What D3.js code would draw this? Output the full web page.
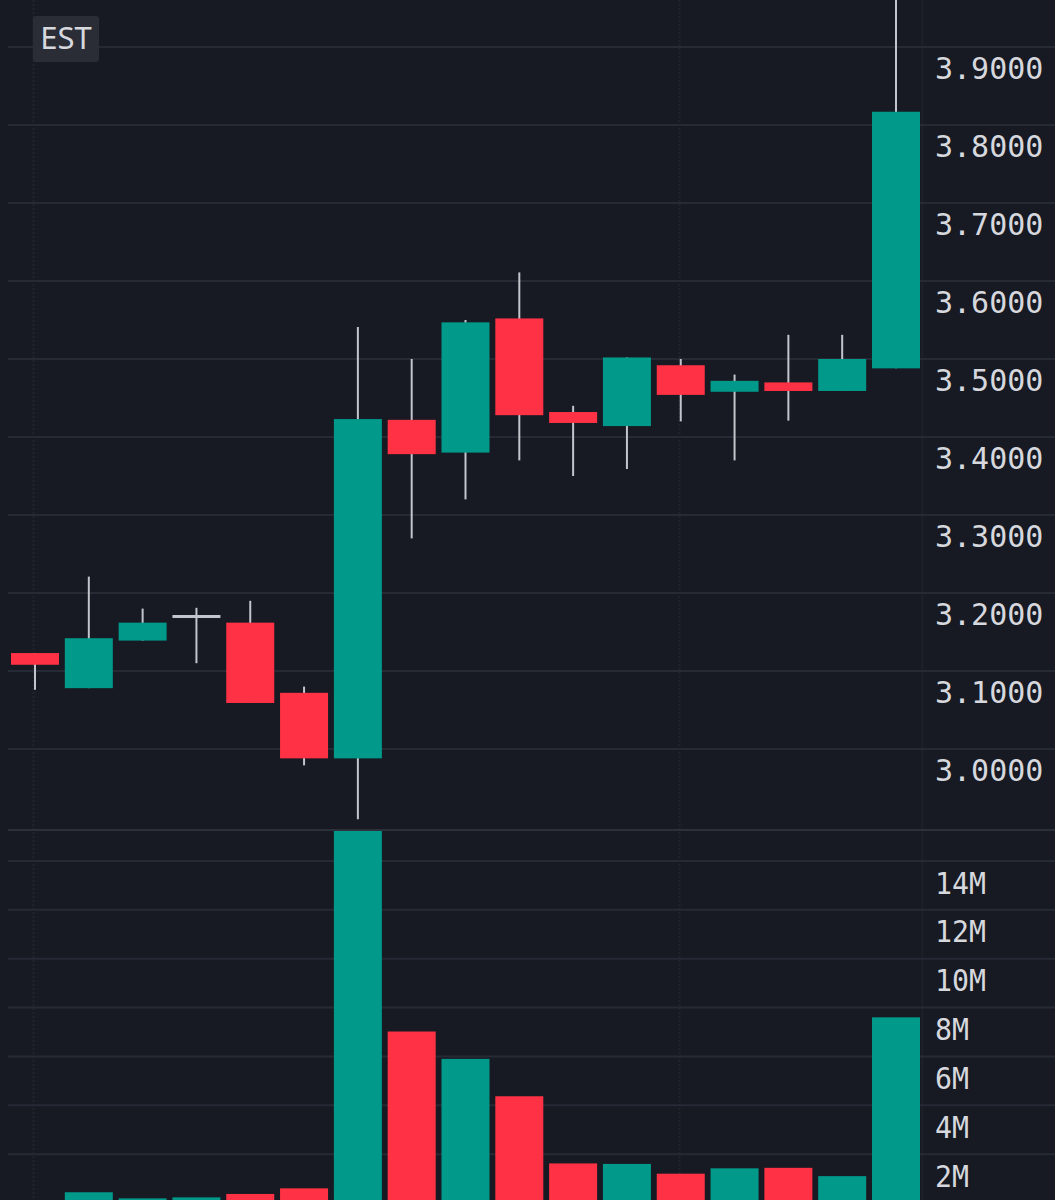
<!DOCTYPE html>
<html>
<head>
<meta charset="utf-8">
<script src="https://cdn.jsdelivr.net/npm/d3@7"></script>
<style>
  html, body { margin: 0; padding: 0; background: #171a23; }
  svg { display: block; }
</style>
</head>
<body>
<svg id="chart" width="1055" height="1200"></svg>
<script>
// ---- data ----
const opens  = [3.123, 3.078, 3.139, 3.170, 3.162, 3.072, 2.988, 3.422, 3.380, 3.552, 3.432, 3.414, 3.492, 3.458, 3.470, 3.459, 3.488];
const highs  = [3.123, 3.221, 3.180, 3.181, 3.190, 3.080, 3.541, 3.500, 3.550, 3.611, 3.440, 3.502, 3.500, 3.480, 3.531, 3.531, 3.985];
const lows   = [3.076, 3.078, 3.139, 3.110, 3.059, 2.979, 2.910, 3.270, 3.320, 3.370, 3.350, 3.359, 3.420, 3.370, 3.421, 3.459, 3.488];
const closes = [3.108, 3.142, 3.162, 3.170, 3.059, 2.988, 3.423, 3.378, 3.547, 3.428, 3.418, 3.502, 3.454, 3.472, 3.459, 3.500, 3.817];
const volumes = [0.05e6, 0.44e6, 0.19e6, 0.23e6, 0.37e6, 0.6e6, 15.4e6, 7.02e6, 5.9e6, 4.37e6, 1.62e6, 1.6e6, 1.2e6, 1.42e6, 1.44e6, 1.1e6, 7.6e6];
const priceTicks = [3.0, 3.1, 3.2, 3.3, 3.4, 3.5, 3.6, 3.7, 3.8, 3.9];
const volumeTicks = [2e6, 4e6, 6e6, 8e6, 10e6, 12e6, 14e6];
const timeGridIdx = [0, 12];
const zoneLabel = "EST";

// ---- style ----
const W = 1055, H = 1200;
const BG = "#171a23", GRID = "#262a35", UP = "#00998a", DOWN = "#ff3245", WICK = "#c3c5cc", TXT = "#d6d8de";
const plotRight = 922, paneSplit = 830;

const svg = d3.select("#chart");
svg.append("rect").attr("width", W).attr("height", H).attr("fill", BG);

const x = d3.scaleLinear().domain([0, opens.length - 1]).range([35, 896]);
const bodyW = 48;
const y = d3.scaleLinear().domain([3.0, 3.9]).range([749, 47]);
const yv = d3.scaleLinear().domain([0, 14e6]).range([1203, 861]);

const defs = svg.append("defs");
defs.append("clipPath").attr("id", "cp-price").append("rect")
  .attr("x", 0).attr("y", 0).attr("width", plotRight).attr("height", paneSplit);
defs.append("clipPath").attr("id", "cp-vol").append("rect")
  .attr("x", 0).attr("y", paneSplit + 1).attr("width", plotRight).attr("height", H - paneSplit);

// grid
const g = svg.append("g");
g.selectAll(".tg").data(timeGridIdx).join("line")
  .attr("x1", d => Math.round(x(d)) - 1.5).attr("x2", d => Math.round(x(d)) - 1.5)
  .attr("y1", 0).attr("y2", H)
  .attr("stroke", "#20242e").attr("stroke-width", 2).attr("stroke-dasharray", "2,2");
g.append("line").attr("x1", plotRight + 0.5).attr("x2", plotRight + 0.5).attr("y1", 0).attr("y2", H)
  .attr("stroke", "#1d2029").attr("stroke-width", 2);
g.selectAll(".pg").data(priceTicks).join("line")
  .attr("x1", 8).attr("x2", W).attr("y1", d => y(d)).attr("y2", d => y(d))
  .attr("stroke", GRID).attr("stroke-width", 2);
g.selectAll(".vg").data(volumeTicks).join("line")
  .attr("x1", 8).attr("x2", W).attr("y1", d => yv(d)).attr("y2", d => yv(d))
  .attr("stroke", GRID).attr("stroke-width", 2);
g.append("line").attr("x1", 8).attr("x2", W).attr("y1", paneSplit).attr("y2", paneSplit)
  .attr("stroke", "#2c303b").attr("stroke-width", 2);

// candles
const idx = d3.range(opens.length);
const pc = svg.append("g").attr("clip-path", "url(#cp-price)");
pc.selectAll(".wick").data(idx).join("line")
  .attr("x1", i => x(i)).attr("x2", i => x(i))
  .attr("y1", i => y(highs[i])).attr("y2", i => y(lows[i]))
  .attr("stroke", WICK).attr("stroke-width", 2);
pc.selectAll(".body").data(idx.filter(i => opens[i] !== closes[i])).join("rect")
  .attr("x", i => x(i) - bodyW / 2)
  .attr("y", i => y(Math.max(opens[i], closes[i])))
  .attr("width", bodyW)
  .attr("height", i => Math.max(2, Math.abs(y(opens[i]) - y(closes[i]))))
  .attr("fill", i => closes[i] > opens[i] ? UP : DOWN);
pc.selectAll(".doji").data(idx.filter(i => opens[i] === closes[i])).join("line")
  .attr("x1", i => x(i) - bodyW / 2).attr("x2", i => x(i) + bodyW / 2)
  .attr("y1", i => y(opens[i])).attr("y2", i => y(opens[i]))
  .attr("stroke", WICK).attr("stroke-width", 3);

// volume
const vc = svg.append("g").attr("clip-path", "url(#cp-vol)");
vc.selectAll(".vol").data(idx).join("rect")
  .attr("x", i => x(i) - bodyW / 2)
  .attr("y", i => yv(volumes[i]))
  .attr("width", bodyW)
  .attr("height", i => yv(0) - yv(volumes[i]))
  .attr("fill", i => closes[i] >= opens[i] ? UP : DOWN);

// axes labels
const axisFont = "'DejaVu Sans Mono', 'Liberation Mono', monospace";
const ap = d3.axisRight(y).tickValues(priceTicks).tickFormat(d3.format(".4f")).tickSize(0);
const apG = svg.append("g").attr("transform", `translate(935,0)`).call(ap);
apG.select(".domain").remove();
apG.selectAll("text").attr("x", 0).attr("dy", "31px").attr("fill", TXT)
  .attr("font-family", axisFont).attr("font-size", 30).attr("text-anchor", "start");

const av = d3.axisRight(yv).tickValues(volumeTicks).tickFormat(d => d / 1e6 + "M").tickSize(0);
const avG = svg.append("g").attr("transform", `translate(935,0)`).call(av);
avG.select(".domain").remove();
avG.selectAll("text").attr("x", 0).attr("dy", "32px").attr("fill", TXT)
  .attr("font-family", axisFont).attr("font-size", 30).attr("text-anchor", "start")
  .attr("textLength", d => String(d / 1e6).length * 17 + 17).attr("lengthAdjust", "spacingAndGlyphs");

// time zone badge
svg.append("rect").attr("x", 33).attr("y", 16).attr("width", 66).attr("height", 46).attr("rx", 3)
  .attr("fill", "#2a2d36");
svg.append("text").attr("x", 66).attr("y", 49).attr("text-anchor", "middle")
  .attr("font-family", "'Noto Sans', 'Open Sans', sans-serif").attr("font-size", 31)
  .attr("fill", TXT).text(zoneLabel);
</script>
</body>
</html>
